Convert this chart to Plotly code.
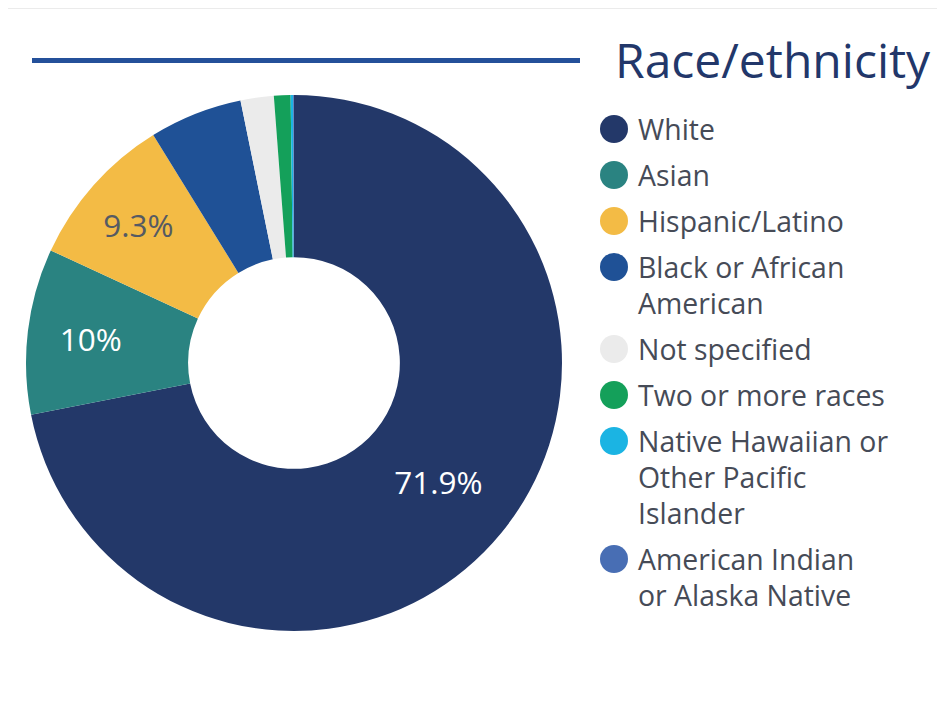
import plotly.graph_objects as go

categories = ["White", "Asian", "Hispanic/Latino", "Black or African<br>American",
              "Not specified", "Two or more races",
              "Native Hawaiian or<br>Other Pacific<br>Islander",
              "American Indian<br>or Alaska Native"]
values = [71.9, 10.0, 9.3, 5.6, 2.0, 1.0, 0.15, 0.05]
slice_labels = ["71.9%", "10%", "9.3%", "", "", "", "", ""]
colors = ["#233869", "#2a8381", "#f3bb45", "#1f5196", "#ebebeb", "#14a05a", "#1bb4e3", "#486eb4"]
label_colors = ["#ffffff", "#ffffff", "#555a63", "#ffffff", "#555a63", "#ffffff", "#ffffff", "#ffffff"]
title_text = "Race/ethnicity"

W, H = 945, 715
OFF = 8  # page offset of the plot div
fig = go.Figure()

# donut
cx, cy, r = 294 - OFF, 363 - OFF, 268
fig.add_trace(go.Pie(
    labels=[c.replace("<br>", " ") for c in categories],
    values=values,
    text=slice_labels,
    textinfo="text",
    textposition="inside",
    insidetextorientation="horizontal",
    textfont=dict(family="Open Sans", size=31.5, color=label_colors),
    marker=dict(colors=colors, line=dict(width=0)),
    hole=0.395,
    sort=False,
    direction="clockwise",
    rotation=0,
    showlegend=False,
    hoverinfo="label+percent",
    domain=dict(x=[(cx - r) / W, (cx + r) / W], y=[(H - cy - r) / H, (H - cy + r) / H]),
))

# custom legend (circle markers + wrapped labels)
start_y, item_gap, line_h = 129 - OFF, 46, 36
ys = []
y = start_y
for c in categories:
    ys.append(y)
    y += item_gap + line_h * c.count("<br>")

fig.add_trace(go.Scatter(
    x=[614 - OFF] * len(categories), y=ys, mode="markers",
    marker=dict(size=28, color=colors, line=dict(width=0)),
    showlegend=False, hoverinfo="skip", cliponaxis=False,
))

annotations = []
for c, yy in zip(categories, ys):
    for i, line in enumerate(c.split("<br>")):
        annotations.append(dict(
            x=636 - OFF, y=yy + i * line_h, xref="x", yref="y", text=line, showarrow=False,
            xanchor="left", yanchor="middle", align="left",
            font=dict(family="Open Sans", size=28.4, color="#464b57"),
        ))
annotations.append(dict(
    x=605, y=51, xref="x", yref="y", text=title_text, showarrow=False,
    xanchor="left", yanchor="middle",
    font=dict(family="Open Sans", size=48, color="#22376a"),
))

shapes = [
    dict(type="rect", xref="x", yref="y", x0=-2, y0=1, x1=W + 5, y1=H + 5,
         fillcolor="#ffffff", line=dict(width=0), layer="below"),
    dict(type="line", xref="x", yref="y", x0=32 - OFF, x1=580 - OFF, y0=60.5 - OFF, y1=60.5 - OFF,
         line=dict(color="#24509a", width=5)),
]

fig.update_layout(
    width=W, height=H,
    margin=dict(l=0, r=0, t=0, b=0),
    paper_bgcolor="#ebebeb",
    plot_bgcolor="rgba(0,0,0,0)",
    xaxis=dict(range=[0, W], visible=False, domain=[0, 1], fixedrange=True),
    yaxis=dict(range=[H, 0], visible=False, domain=[0, 1], fixedrange=True),
    annotations=annotations,
    shapes=shapes,
    font=dict(family="Open Sans"),
)

fig.write_html("out.html")
